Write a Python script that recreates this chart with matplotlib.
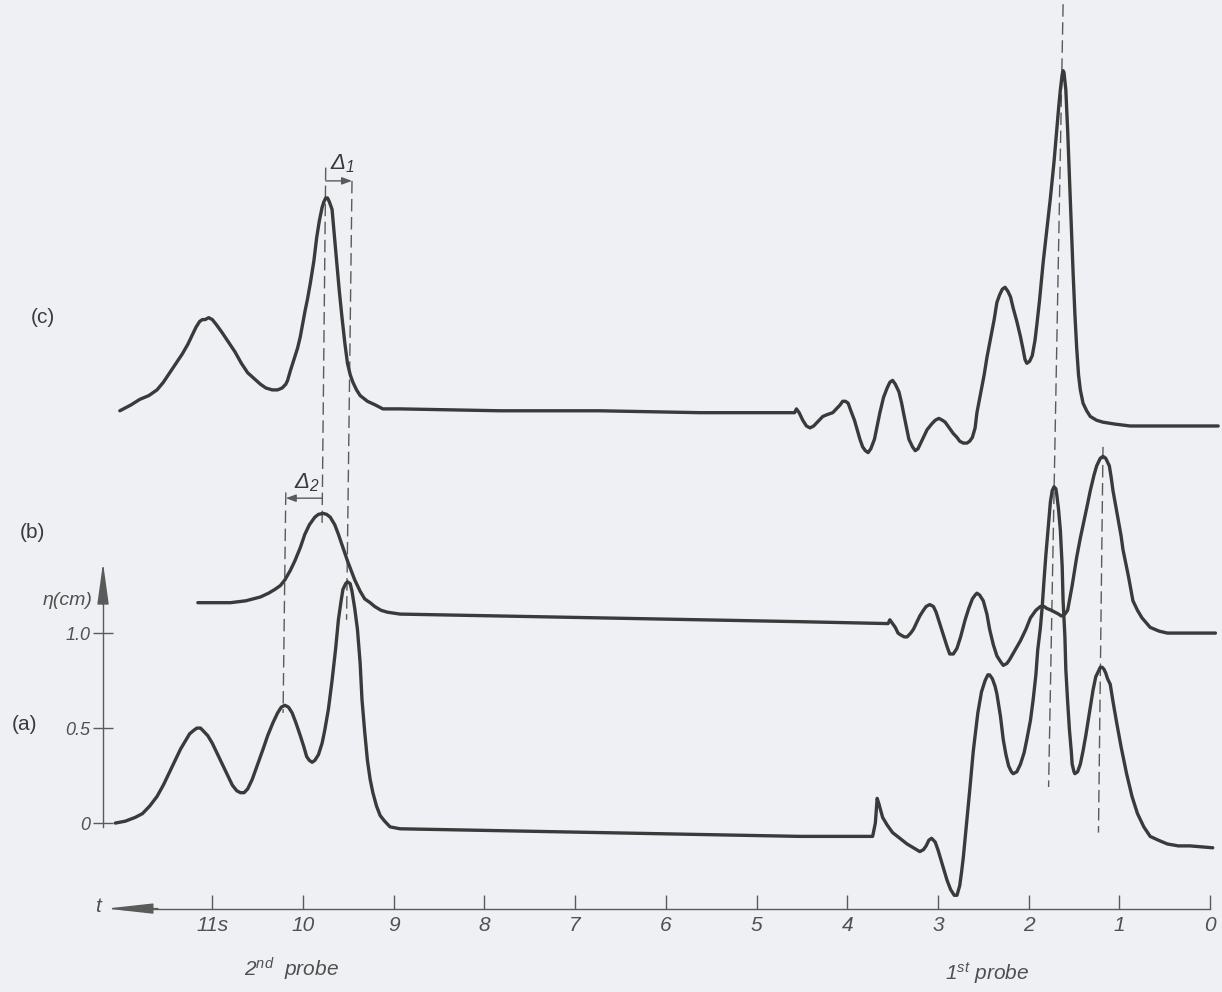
import matplotlib
matplotlib.use("Agg")
import matplotlib.pyplot as plt

# ---------------- data (t in s, eta in cm) ----------------
# record (a)
t_a = [12.07, 11.96, 11.85, 11.77, 11.69, 11.61, 11.54, 11.47, 11.41, 11.35, 11.30, 11.25,
       11.20, 11.17, 11.13, 11.09, 11.05, 11.00, 10.94, 10.89, 10.83, 10.78, 10.73, 10.69,
       10.65, 10.61, 10.56, 10.50, 10.44, 10.39, 10.33, 10.28, 10.24, 10.20, 10.16, 10.12,
       10.08, 10.03, 9.99, 9.96, 9.93, 9.90, 9.87, 9.83, 9.79, 9.76, 9.72, 9.68,
       9.64, 9.61, 9.58, 9.56, 9.53, 9.51, 9.48, 9.46, 9.43, 9.40, 9.37, 9.35,
       9.32, 9.29, 9.26, 9.23, 9.19, 9.15, 9.10, 9.04, 8.93, 7.83, 6.73, 5.62,
       4.52, 3.72, 3.69, 3.67, 3.65, 3.61, 3.56, 3.50, 3.42, 3.34, 3.27, 3.20,
       3.16, 3.13, 3.10, 3.07, 3.03, 3.00, 2.95, 2.90, 2.86, 2.82, 2.79, 2.76,
       2.74, 2.72, 2.69, 2.65, 2.61, 2.56, 2.52, 2.48, 2.45, 2.43, 2.40, 2.37,
       2.35, 2.31, 2.28, 2.25, 2.22, 2.19, 2.17, 2.13, 2.09, 2.05, 2.02, 1.98,
       1.95, 1.92, 1.90, 1.87, 1.85, 1.83, 1.81, 1.78, 1.76, 1.74, 1.72, 1.70,
       1.69, 1.67, 1.65, 1.63, 1.62, 1.60, 1.59, 1.57, 1.55, 1.53, 1.52, 1.50,
       1.49, 1.46, 1.43, 1.40, 1.37, 1.33, 1.29, 1.26, 1.23, 1.21, 1.19, 1.17,
       1.15, 1.13, 1.10, 1.07, 1.03, 0.98, 0.92, 0.86, 0.80, 0.73, 0.66, 0.57,
       0.47, 0.35, 0.22, -0.03]
eta_a = [0.00, 0.01, 0.03, 0.05, 0.09, 0.14, 0.20, 0.27, 0.33, 0.39, 0.43, 0.47,
         0.49, 0.50, 0.50, 0.48, 0.46, 0.42, 0.36, 0.31, 0.25, 0.20, 0.17, 0.16,
         0.16, 0.18, 0.23, 0.31, 0.39, 0.46, 0.53, 0.58, 0.61, 0.62, 0.61, 0.58,
         0.53, 0.46, 0.40, 0.35, 0.33, 0.32, 0.33, 0.36, 0.42, 0.49, 0.60, 0.75,
         0.92, 1.07, 1.17, 1.23, 1.26, 1.27, 1.26, 1.22, 1.13, 1.02, 0.84, 0.65,
         0.48, 0.33, 0.23, 0.16, 0.09, 0.04, 0.01, -0.02, -0.03, -0.04, -0.05, -0.06,
         -0.07, -0.07, 0.00, 0.13, 0.10, 0.03, -0.01, -0.05, -0.08, -0.11, -0.13, -0.15,
         -0.14, -0.12, -0.09, -0.08, -0.10, -0.14, -0.22, -0.30, -0.35, -0.38, -0.38, -0.33,
         -0.26, -0.18, -0.03, 0.17, 0.38, 0.58, 0.69, 0.75, 0.78, 0.78, 0.76, 0.72,
         0.68, 0.56, 0.44, 0.36, 0.30, 0.27, 0.26, 0.27, 0.31, 0.37, 0.44, 0.54,
         0.65, 0.78, 0.91, 1.03, 1.14, 1.28, 1.41, 1.58, 1.69, 1.75, 1.77, 1.76,
         1.73, 1.65, 1.54, 1.35, 1.17, 0.98, 0.81, 0.64, 0.49, 0.38, 0.31, 0.27,
         0.26, 0.27, 0.31, 0.38, 0.46, 0.58, 0.70, 0.77, 0.80, 0.82, 0.82, 0.81,
         0.79, 0.76, 0.73, 0.64, 0.53, 0.40, 0.26, 0.14, 0.05, -0.02, -0.07, -0.09,
         -0.11, -0.12, -0.12, -0.13]

# record (b)
t_b = [11.16, 10.98, 10.80, 10.63, 10.47, 10.38, 10.31, 10.25, 10.20, 10.14, 10.09, 10.03,
       9.98, 9.93, 9.87, 9.83, 9.78, 9.74, 9.70, 9.65, 9.61, 9.56, 9.51, 9.47,
       9.43, 9.37, 9.32, 9.26, 9.21, 9.14, 9.07, 8.93, 7.83, 6.73, 5.62, 4.52,
       3.55, 3.53, 3.50, 3.47, 3.44, 3.41, 3.37, 3.34, 3.30, 3.27, 3.23, 3.20,
       3.16, 3.13, 3.09, 3.05, 3.02, 2.98, 2.94, 2.90, 2.87, 2.83, 2.79, 2.75,
       2.70, 2.66, 2.62, 2.59, 2.57, 2.54, 2.50, 2.46, 2.43, 2.39, 2.35, 2.31,
       2.28, 2.24, 2.21, 2.15, 2.09, 2.03, 1.98, 1.92, 1.87, 1.83, 1.80, 1.75,
       1.71, 1.67, 1.64, 1.60, 1.57, 1.52, 1.47, 1.43, 1.39, 1.35, 1.32, 1.28,
       1.25, 1.21, 1.18, 1.15, 1.11, 1.09, 1.07, 1.04, 1.01, 0.98, 0.96, 0.90,
       0.85, 0.80, 0.75, 0.66, 0.56, 0.47, -0.06]
eta_b = [1.16, 1.16, 1.16, 1.17, 1.19, 1.21, 1.23, 1.25, 1.28, 1.33, 1.38, 1.45,
         1.52, 1.57, 1.61, 1.625, 1.63, 1.625, 1.61, 1.57, 1.52, 1.45, 1.38, 1.33,
         1.28, 1.22, 1.18, 1.16, 1.14, 1.12, 1.11, 1.10, 1.09, 1.08, 1.07, 1.06,
         1.05, 1.07, 1.05, 1.03, 1.00, 0.99, 0.98, 0.98, 1.00, 1.02, 1.06, 1.09,
         1.12, 1.14, 1.15, 1.14, 1.11, 1.05, 0.99, 0.93, 0.89, 0.89, 0.92, 0.98,
         1.07, 1.13, 1.18, 1.20, 1.21, 1.20, 1.17, 1.10, 1.02, 0.94, 0.88, 0.85,
         0.83, 0.84, 0.86, 0.91, 0.96, 1.02, 1.08, 1.12, 1.14, 1.14, 1.13, 1.12,
         1.11, 1.10, 1.09, 1.10, 1.12, 1.25, 1.40, 1.50, 1.59, 1.68, 1.75, 1.83,
         1.88, 1.92, 1.93, 1.92, 1.88, 1.82, 1.75, 1.67, 1.59, 1.51, 1.44, 1.30,
         1.17, 1.12, 1.08, 1.03, 1.01, 1.00, 1.00]

# record (c)
t_c = [12.02, 11.90, 11.80, 11.70, 11.61, 11.54, 11.47, 11.40, 11.33, 11.27, 11.22, 11.18,
       11.14, 11.11, 11.08, 11.04, 11.00, 10.95, 10.89, 10.82, 10.75, 10.68, 10.61, 10.54,
       10.47, 10.41, 10.34, 10.28, 10.23, 10.19, 10.17, 10.14, 10.10, 10.06, 10.03, 9.98,
       9.95, 9.92, 9.88, 9.85, 9.82, 9.79, 9.77, 9.75, 9.73, 9.71, 9.68, 9.66,
       9.63, 9.60, 9.57, 9.54, 9.51, 9.48, 9.45, 9.41, 9.37, 9.29, 9.20, 9.12,
       8.93, 7.83, 6.73, 5.62, 4.58, 4.56, 4.53, 4.49, 4.45, 4.41, 4.37, 4.33,
       4.27, 4.22, 4.16, 4.12, 4.08, 4.05, 4.02, 3.99, 3.96, 3.92, 3.89, 3.86,
       3.83, 3.80, 3.77, 3.74, 3.70, 3.67, 3.64, 3.60, 3.56, 3.53, 3.50, 3.47,
       3.43, 3.40, 3.38, 3.35, 3.32, 3.28, 3.25, 3.22, 3.19, 3.15, 3.12, 3.07,
       3.03, 2.99, 2.95, 2.92, 2.89, 2.86, 2.83, 2.79, 2.76, 2.72, 2.68, 2.65,
       2.62, 2.59, 2.57, 2.53, 2.49, 2.46, 2.42, 2.38, 2.35, 2.32, 2.29, 2.26,
       2.23, 2.20, 2.17, 2.13, 2.09, 2.06, 2.04, 2.02, 1.99, 1.96, 1.93, 1.91,
       1.88, 1.84, 1.80, 1.76, 1.72, 1.69, 1.67, 1.65, 1.63, 1.62, 1.61, 1.59,
       1.58, 1.57, 1.55, 1.53, 1.51, 1.49, 1.47, 1.45, 1.43, 1.40, 1.36, 1.32,
       1.25, 1.18, 1.05, 0.88, -0.09]
eta_c = [2.17, 2.20, 2.23, 2.25, 2.28, 2.32, 2.37, 2.42, 2.47, 2.52, 2.57, 2.61,
         2.64, 2.65, 2.65, 2.66, 2.65, 2.62, 2.58, 2.53, 2.48, 2.42, 2.37, 2.34,
         2.31, 2.29, 2.28, 2.28, 2.29, 2.31, 2.33, 2.38, 2.44, 2.50, 2.56, 2.69,
         2.76, 2.84, 2.96, 3.08, 3.17, 3.24, 3.27, 3.29, 3.29, 3.27, 3.23, 3.12,
         2.96, 2.80, 2.66, 2.53, 2.42, 2.36, 2.32, 2.28, 2.25, 2.22, 2.20, 2.18,
         2.18, 2.17, 2.17, 2.16, 2.16, 2.18, 2.16, 2.12, 2.09, 2.08, 2.09, 2.11,
         2.14, 2.15, 2.16, 2.18, 2.20, 2.22, 2.22, 2.21, 2.17, 2.12, 2.07, 2.02,
         1.98, 1.96, 1.95, 1.97, 2.02, 2.09, 2.16, 2.24, 2.29, 2.32, 2.33, 2.31,
         2.27, 2.21, 2.16, 2.09, 2.02, 1.98, 1.96, 1.97, 2.00, 2.04, 2.07, 2.10,
         2.12, 2.13, 2.12, 2.11, 2.09, 2.07, 2.05, 2.03, 2.01, 2.00, 2.00, 2.01,
         2.03, 2.08, 2.16, 2.26, 2.36, 2.45, 2.55, 2.65, 2.74, 2.78, 2.81, 2.82,
         2.80, 2.77, 2.71, 2.64, 2.56, 2.49, 2.44, 2.42, 2.43, 2.46, 2.54, 2.62,
         2.75, 2.95, 3.12, 3.29, 3.48, 3.65, 3.76, 3.86, 3.94, 3.96, 3.95, 3.86,
         3.76, 3.65, 3.40, 3.14, 2.90, 2.68, 2.50, 2.36, 2.28, 2.21, 2.17, 2.14,
         2.12, 2.11, 2.10, 2.09, 2.09]

# dashed guide lines: (t_top, eta_top) -> (t_bottom, eta_bottom)
guides_t_top = [1.62, 1.18, 10.19, 9.75, 9.46]
guides_eta_top = [4.31, 1.98, 1.74, 3.45, 3.38]
guides_t_bot = [1.78, 1.23, 10.22, 9.79, 9.52]
guides_eta_bot = [0.19, -0.05, 0.58, 1.58, 1.07]

# time shifts Delta1 / Delta2 (start t, end t, level)
delta1 = (9.75, 9.46, 3.38)
delta2 = (9.79, 10.19, 1.71)

x_ticks = [0, 1, 2, 3, 4, 5, 6, 7, 8, 9, 10, 11]
x_ticklabels = ["0", "1", "2", "3", "4", "5", "6", "7", "8", "9", "10", "11s"]
y_ticks = [0, 0.5, 1.0]
y_ticklabels = ["0", "0.5", "1.0"]
record_labels = ["(a)", "(b)", "(c)"]

# ---------------- styling ----------------
plt.rcParams["font.family"] = ["Liberation Sans", "DejaVu Sans"]
plt.rcParams["mathtext.fontset"] = "custom"
plt.rcParams["mathtext.rm"] = "Liberation Sans:italic"
plt.rcParams["mathtext.it"] = "Liberation Sans:italic"
plt.rcParams["mathtext.bf"] = "Liberation Sans:bold"

bg = "#eef0f4"
ink = "#3a3a3a"
axc = "#5a5a5a"

fig = plt.figure(figsize=(12.22, 9.92), dpi=100)
fig.patch.set_facecolor(bg)
ax = fig.add_axes([0, 0, 1, 1])
ax.set_facecolor(bg)
ax.set_xlim(13.341, -0.132)
ax.set_ylim(-0.889, 4.332)

# curves
for tt, ee in [(t_a, eta_a), (t_b, eta_b), (t_c, eta_c)]:
    ax.plot(tt, ee, color=ink, lw=2.4, solid_joinstyle="round", solid_capstyle="round",
            zorder=3)

# dashed guides
for t1, e1, t2, e2 in zip(guides_t_top, guides_eta_top, guides_t_bot, guides_eta_bot):
    ax.plot([t1, t2], [e1, e2], color=axc, lw=1.0, ls=(0, (9, 4)), zorder=2)

# delta arrows
for (ts, te, lev), lab, lt, le in [(delta1, r"$\Delta_1$", 9.56, 3.47),
                                   (delta2, r"$\Delta_2$", 9.96, 1.79)]:
    ax.annotate("", xy=(te, lev), xytext=(ts, lev),
                arrowprops=dict(arrowstyle="-|>,head_length=0.6,head_width=0.22",
                                lw=1.0, color=axc, shrinkA=0, shrinkB=0))
    ax.text(lt, le, lab, fontsize=16, color=ink, ha="center", va="center")

# axes (spines)
for s in ["top", "right"]:
    ax.spines[s].set_visible(False)
ax.spines["left"].set_position(("data", 12.205))
ax.spines["left"].set_bounds(-0.02, 1.25)
ax.spines["bottom"].set_position(("data", -0.45))
ax.spines["bottom"].set_bounds(0, 12.0)
for s in ["left", "bottom"]:
    ax.spines[s].set_color(axc)
    ax.spines[s].set_linewidth(1.0)

ax.set_xticks(x_ticks)
ax.set_xticklabels(x_ticklabels)
ax.set_yticks(y_ticks)
ax.set_yticklabels(y_ticklabels)
ax.tick_params(axis="x", direction="in", length=10, width=1.0, color=axc, pad=5,
               labelsize=15, labelcolor="#505050")
ax.tick_params(axis="y", direction="inout", length=14, width=1.0, color=axc, pad=2,
               labelsize=13, labelcolor="#505050")
ax.set_xticks([0], minor=True)
ax.tick_params(axis="x", which="minor", direction="inout", length=17, width=1.0, color=axc)
for lab in ax.get_xticklabels() + ax.get_yticklabels():
    lab.set_fontstyle("italic")

# axis arrowheads
ax.annotate("", xy=(12.205, 1.37), xytext=(12.205, 1.15),
            arrowprops=dict(arrowstyle="-|>,head_length=2.6,head_width=0.36",
                            lw=1.0, color=axc, shrinkA=0, shrinkB=0))
ax.annotate("", xy=(12.17, -0.45), xytext=(11.6, -0.45),
            arrowprops=dict(arrowstyle="-|>,head_length=2.9,head_width=0.32",
                            lw=1.0, color=axc, shrinkA=0, shrinkB=0))

# axis labels
ax.text(12.26, -0.44, "t", fontsize=15, style="italic", color="#505050",
        ha="center", va="center")
ax.text(12.60, 1.17, "η(cm)", fontsize=14, style="italic", color="#505050",
        ha="center", va="center")

# record labels
for lab, lt, le in zip(record_labels, [13.07, 12.98, 12.87], [0.52, 1.53, 2.66]):
    ax.text(lt, le, lab, fontsize=15, color=ink, ha="center", va="center")

# probe labels
ax.text(10.13, -0.77, r"$2^{nd}$  probe", fontsize=15, style="italic", color="#505050",
        ha="center", va="center")
ax.text(2.46, -0.79, r"$1^{st}$ probe", fontsize=15, style="italic", color="#505050",
        ha="center", va="center")

fig.savefig("out.png", dpi=100, facecolor=bg)
